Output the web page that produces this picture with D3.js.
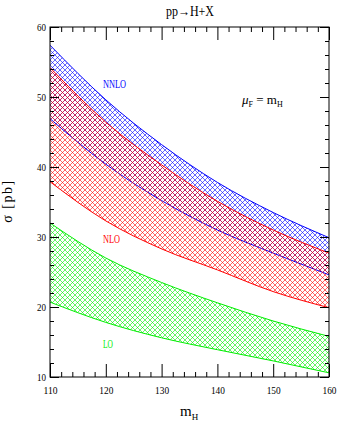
<!DOCTYPE html>
<html>
<head>
<meta charset="utf-8">
<script src="https://cdn.jsdelivr.net/npm/d3@7"></script>
<style>
  body { margin: 0; background: #fff; }
  text { font-family: "Liberation Serif", serif; }
  .axis path { display: none; }
  .axis line { stroke: #000; }
</style>
</head>
<body>
<script>
// canvas
var w = 338;
var h = 425;

// plot box
var pdL = 50;
var pdR = 9;
var pdT = 27;
var pdB = 48;

// data (sigma in pb vs m_H in GeV)
var mH       = [110, 120, 130, 140, 150, 160];
var loLow    = [20.7, 17.8, 15.6, 13.9, 12.3, 10.6];
var loHigh   = [32.0, 27.0, 23.5, 20.6, 18.0, 15.8];
var nloLow   = [37.9, 32.3, 28.3, 25.3, 22.2, 19.9];
var nloHigh  = [54.2, 46.4, 40.3, 35.1, 31.0, 27.7];
var nnloLow  = [46.9, 40.4, 35.2, 31.0, 27.7, 24.6];
var nnloHigh = [57.4, 49.6, 43.2, 37.8, 33.5, 29.9];

var xTicks = [110, 120, 130, 140, 150, 160];
var yTicks = [10, 20, 30, 40, 50, 60];

// drawn in this order: blue under red
var bands = [
  { name: "NNLO", low: nnloLow, high: nnloHigh, col: "#0000ff", lab: [103, 88, 23] },
  { name: "NLO",  low: nloLow,  high: nloHigh,  col: "#ff0000", lab: [103, 243, 17] },
  { name: "LO",   low: loLow,   high: loHigh,   col: "#00ee00", lab: [103, 348, 10] }
];

var scaleX = d3.scaleLinear().domain([110, 160]).range([pdL, w - pdR]);
var scaleY = d3.scaleLinear().domain([10, 60]).range([h - pdB, pdT]);

var svg = d3.select("body").append("svg")
            .attr("width", w)
            .attr("height", h);

// cross hatch patterns, one per colour
var defs = svg.append("defs");
bands.forEach(function(b) {
  var p = defs.append("pattern")
              .attr("id", "hatch" + b.name)
              .attr("patternUnits", "userSpaceOnUse")
              .attr("width", 5)
              .attr("height", 5);
  p.append("path")
   .attr("d", "M-1,-1L6,6M-1,6L6,-1")
   .attr("stroke", b.col)
   .attr("stroke-width", 0.6)
   .attr("fill", "none");
});

svg.append("clipPath").attr("id", "box")
   .append("rect")
   .attr("x", pdL).attr("y", pdT)
   .attr("width", w - pdL - pdR).attr("height", h - pdT - pdB);

var plot = svg.append("g").attr("clip-path", "url(#box)");

var area = d3.area()
             .x(function(d) { return scaleX(d.m); })
             .y0(function(d) { return scaleY(d.lo); })
             .y1(function(d) { return scaleY(d.hi); })
             .curve(d3.curveMonotoneX);
var line = d3.line()
             .x(function(d) { return scaleX(d[0]); })
             .y(function(d) { return scaleY(d[1]); })
             .curve(d3.curveMonotoneX);

bands.forEach(function(b) {
  var pts = mH.map(function(m, i) { return { m: m, lo: b.low[i], hi: b.high[i] }; });
  plot.append("path")
      .attr("d", area(pts))
      .attr("fill", "url(#hatch" + b.name + ")");
  [b.low, b.high].forEach(function(arr) {
    plot.append("path")
        .attr("d", line(mH.map(function(m, i) { return [m, arr[i]]; })))
        .attr("stroke", b.col)
        .attr("stroke-width", 1)
        .attr("fill", "none");
  });
  svg.append("text")
     .text(b.name)
     .attr("x", b.lab[0])
     .attr("y", b.lab[1])
     .attr("font-size", 13)
     .attr("textLength", b.lab[2])
     .attr("lengthAdjust", "spacingAndGlyphs")
     .attr("fill", b.col);
});

// frame
svg.append("rect")
   .attr("x", pdL).attr("y", pdT)
   .attr("width", w - pdL - pdR).attr("height", h - pdT - pdB)
   .attr("fill", "none")
   .attr("stroke", "#000")
   .attr("stroke-width", 1);

// minor tick values every 2 units
var xMinor = d3.range(110, 161, 2).filter(function(v) { return v % 10 !== 0; });
var yMinor = d3.range(10, 61, 2).filter(function(v) { return v % 10 !== 0; });

// bottom
svg.append("g").attr("class", "axis xlab")
   .attr("transform", "translate(0," + (h - pdB) + ")")
   .call(d3.axisBottom(scaleX).tickValues(xTicks).tickSizeInner(-13).tickSizeOuter(0).tickPadding(9));
svg.append("g").attr("class", "axis")
   .attr("transform", "translate(0," + (h - pdB) + ")")
   .call(d3.axisBottom(scaleX).tickValues(xMinor).tickSize(-5).tickFormat(""));
// top
svg.append("g").attr("class", "axis")
   .attr("transform", "translate(0," + pdT + ")")
   .call(d3.axisTop(scaleX).tickValues(xTicks).tickSize(-13).tickFormat(""));
svg.append("g").attr("class", "axis")
   .attr("transform", "translate(0," + pdT + ")")
   .call(d3.axisTop(scaleX).tickValues(xMinor).tickSize(-5).tickFormat(""));
// left
svg.append("g").attr("class", "axis ylab")
   .attr("transform", "translate(" + pdL + ",0)")
   .call(d3.axisLeft(scaleY).tickValues(yTicks).tickSizeInner(-9).tickSizeOuter(0).tickPadding(4));
svg.append("g").attr("class", "axis")
   .attr("transform", "translate(" + pdL + ",0)")
   .call(d3.axisLeft(scaleY).tickValues(yMinor).tickSize(-4).tickFormat(""));
// right
svg.append("g").attr("class", "axis")
   .attr("transform", "translate(" + (w - pdR) + ",0)")
   .call(d3.axisRight(scaleY).tickValues(yTicks).tickSize(-9).tickFormat(""));
svg.append("g").attr("class", "axis")
   .attr("transform", "translate(" + (w - pdR) + ",0)")
   .call(d3.axisRight(scaleY).tickValues(yMinor).tickSize(-4).tickFormat(""));

// tick label fonts, a bit condensed like the original
svg.selectAll(".xlab text")
   .attr("font-family", "Liberation Serif")
   .attr("font-size", 11)
   .attr("fill", "#000")
   .attr("textLength", 14)
   .attr("lengthAdjust", "spacingAndGlyphs");
svg.selectAll(".ylab text")
   .attr("font-family", "Liberation Serif")
   .attr("font-size", 11)
   .attr("fill", "#000")
   .attr("textLength", 9)
   .attr("lengthAdjust", "spacingAndGlyphs");

// title
svg.append("text")
   .text("pp\u2192H+X")
   .attr("x", 166)
   .attr("y", 16)
   .attr("font-size", 14)
   .attr("textLength", 48)
   .attr("lengthAdjust", "spacingAndGlyphs");

// mu_F = m_H
var mu = svg.append("text")
            .attr("x", 242)
            .attr("y", 104)
            .attr("font-size", 13);
mu.append("tspan").text("\u03bc").attr("font-style", "italic");
mu.append("tspan").text("F").attr("font-size", 8).attr("dy", 3);
mu.append("tspan").text(" = m").attr("dy", -3);
mu.append("tspan").text("H").attr("font-size", 8).attr("dy", 3);

// x axis title
var xt = svg.append("text")
            .attr("x", 180)
            .attr("y", 416)
            .attr("font-size", 15);
xt.append("tspan").text("m");
xt.append("tspan").text("H").attr("font-size", 9).attr("dy", 4);

// y axis title
svg.append("text")
   .text("\u03c3  [pb]")
   .attr("transform", "translate(12,201) rotate(-90)")
   .attr("text-anchor", "middle")
   .attr("font-size", 14)
   .attr("letter-spacing", 1.5);
</script>
</body>
</html>
